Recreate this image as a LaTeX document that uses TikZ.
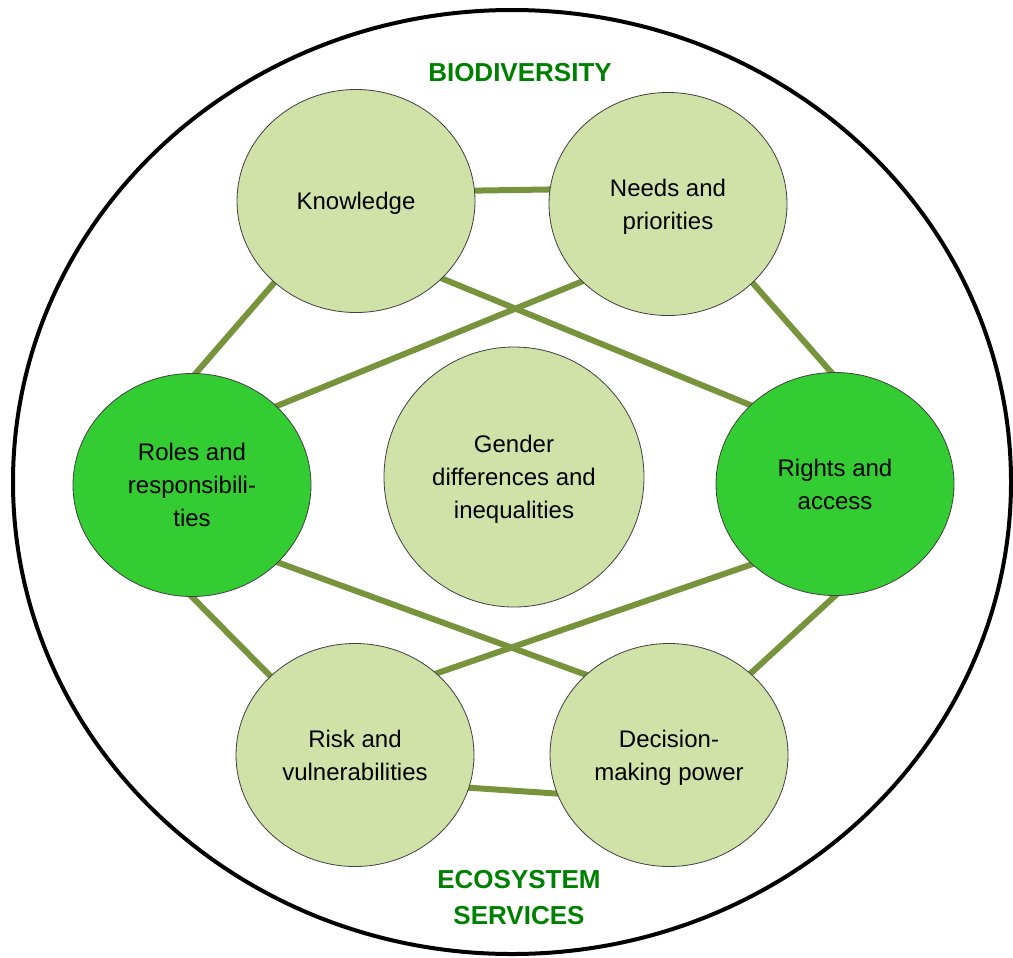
\documentclass[tikz,border=0pt]{standalone}
\usepackage{fontspec}
\setmainfont{Liberation Sans}
\usetikzlibrary{shapes.geometric,backgrounds}
\definecolor{lightfill}{HTML}{D0E2A8}
\definecolor{brightfill}{HTML}{33CC33}
\definecolor{linkcol}{HTML}{77933C}
\definecolor{labelgreen}{HTML}{008000}
\definecolor{rimcol}{HTML}{404040}
\begin{document}
\begin{tikzpicture}[x=0.75pt,y=-0.75pt,
  bubble/.style={ellipse, draw=rimcol, line width=0.6pt, fill=lightfill,
    minimum width=238*0.75pt, minimum height=223*0.75pt, inner sep=0pt,
    text depth=0pt, align=center, font=\fontsize{18}{24.75}\selectfont},
  keybubble/.style={bubble, fill=brightfill},
  link/.style={draw=linkcol, line width=4.5pt, shorten <=-3pt, shorten >=-3pt},
  zonelabel/.style={text=labelgreen, font=\fontsize{19.5}{27}\selectfont\bfseries, inner sep=0pt}]
\useasboundingbox (0,0) rectangle (1013,957);
\node[ellipse, draw=black, line width=3pt, minimum width=998*0.75pt,
  minimum height=944*0.75pt, inner sep=0pt] (outer) at (512,482) {};

\node[bubble] (K) at (356,201) {Knowledge};
\node[bubble] (N) at (668,204) {Needs and\\priorities};
\node[keybubble] (R) at (192,485) {Roles and\\responsibili-\\ties};
\node[keybubble] (A) at (835,484) {Rights and\\access};
\node[bubble, minimum width=260*0.75pt, minimum height=260*0.75pt] (G) at (514,477) {Gender\\differences and\\inequalities};
\node[bubble] (V) at (355,755) {Risk and\\vulnerabilities};
\node[bubble] (D) at (669,755) {Decision-\\making power};

\node[zonelabel, anchor=base] (bio) at (520,81) {BIODIVERSITY};
\node[zonelabel, anchor=base] (eco1) at (519,888) {ECOSYSTEM};
\node[zonelabel, anchor=base] (eco2) at (519,924) {SERVICES};

\begin{pgfonlayer}{background}
\draw[link] (K.5) -- (N.173);
\draw[link] (K.225) -- (R.88);
\draw[link] (K.318) -- (A.137);
\draw[link] (N.222) -- (R.43);
\draw[link] (N.317) -- (A.92);
\draw[link] (R.318) -- (D.136);
\draw[link] (R.270) -- (V.137);
\draw[link] (A.224) -- (V.45);
\draw[link] (A.270) -- (D.45);
\draw[link] (V.344) -- (D.199);
\end{pgfonlayer}
\end{tikzpicture}
\end{document}
